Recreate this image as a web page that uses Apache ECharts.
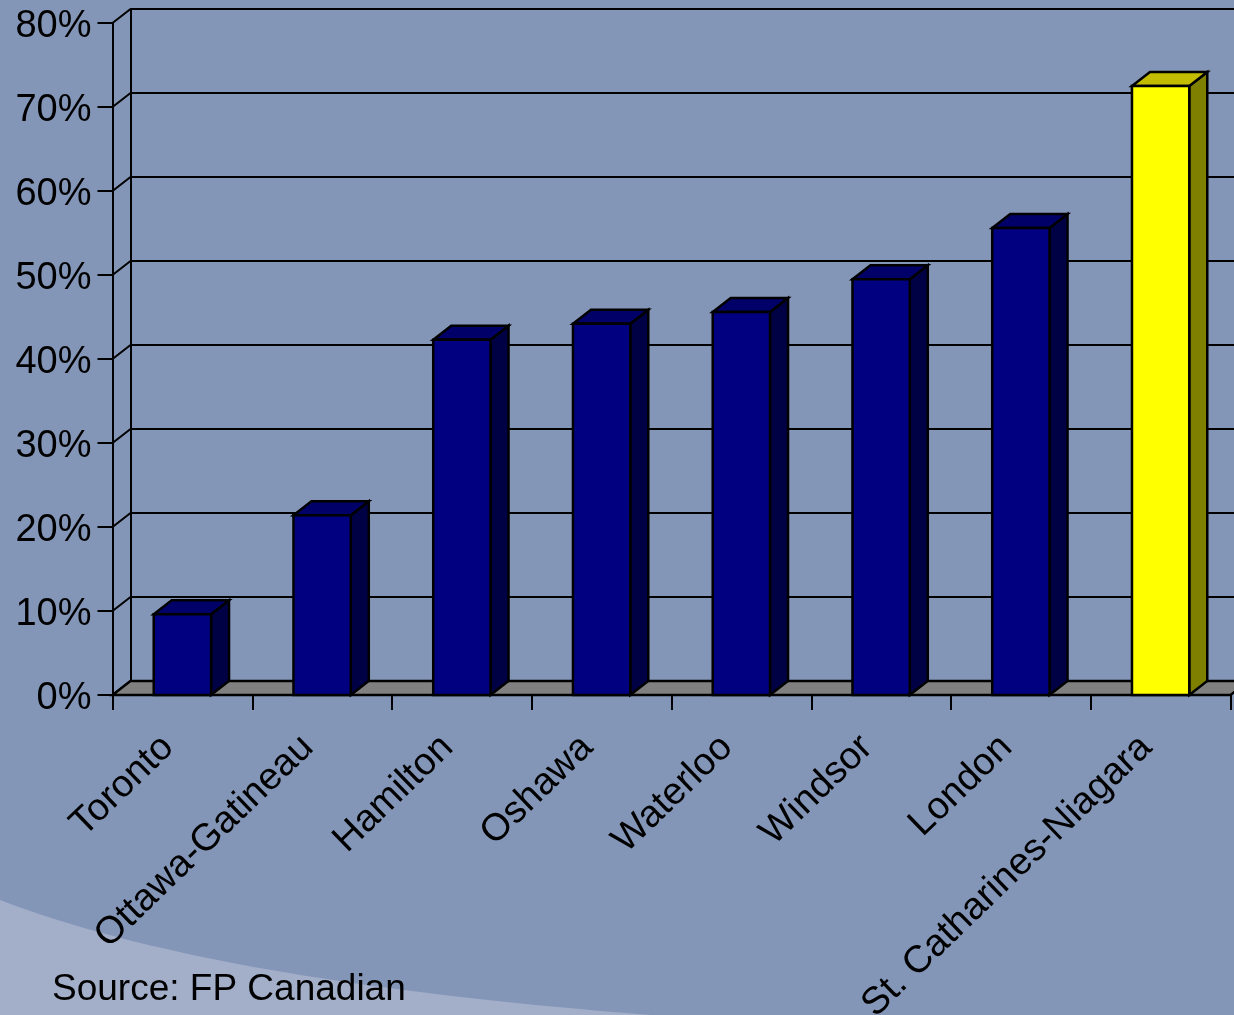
<!DOCTYPE html>
<html>
<head>
<meta charset="utf-8">
<style>html,body{margin:0;padding:0;background:#8496B8}#c{width:1234px;height:1015px}</style>
<script src="https://cdn.jsdelivr.net/npm/echarts@6/dist/echarts.min.js"></script>
</head>
<body>
<div id="c"></div>
<script>
const categories = ['Toronto','Ottawa-Gatineau','Hamilton','Oshawa','Waterloo','Windsor','London','St. Catharines-Niagara'];
const shares = [9.6, 21.4, 42.3, 44.2, 45.6, 49.5, 55.6, 72.5];
const highlighted = ['St. Catharines-Niagara'];
const yTicks = [0, 10, 20, 30, 40, 50, 60, 70, 80];
const sourceNote = 'Source: FP Canadian';

const DX = 18, DY = -14, BAR_FRACTION = 0.41;
const FONT = '"Liberation Sans", Arial, sans-serif';
const LINE = '#000';
const chart = echarts.init(document.getElementById('c'), null, {renderer: 'canvas'});

function poly(points, fill) {
  return {type: 'polygon', shape: {points}, style: {fill, stroke: LINE, lineWidth: 2.5, lineJoin: 'miter'}};
}

function renderBar(params, api) {
  const idx = api.value(0), val = api.value(1), hl = api.value(2);
  const band = api.size([1, 0])[0], w = band * BAR_FRACTION;
  const top = api.coord([idx, val]), base = api.coord([idx, 0]);
  const l = top[0] - w / 2, r = top[0] + w / 2, t = top[1], b = base[1];
  const c = hl ? ['#FFFF00', '#C4BC00', '#808000'] : ['#000080', '#000068', '#000044'];
  return {type: 'group', children: [
    poly([[r, b], [r + DX, b + DY], [r + DX, t + DY], [r, t]], c[2]),
    poly([[l, t], [l + DX, t + DY], [r + DX, t + DY], [r, t]], c[1]),
    poly([[l, t], [r, t], [r, b], [l, b]], c[0])
  ]};
}
function renderFloor(params, api) {
  const a = api.coord([0, 0]), band = api.size([1, 0])[0];
  const x0 = a[0] - band / 2, x1 = x0 + band * categories.length, y = a[1];
  return poly([[x0, y], [x0 + DX, y + DY], [x1 + DX, y + DY], [x1, y]], '#808080');
}
function renderWallTick(params, api) {
  const a = api.coord([0, api.value(0)]), band = api.size([1, 0])[0];
  const x = a[0] - band / 2;
  return {type: 'line', shape: {x1: x, y1: a[1], x2: x + DX, y2: a[1] + DY}, style: {stroke: LINE, lineWidth: 2}};
}

// Decorative backdrop swoosh in the lower-left corner
function swooshPoints() {
  const p0 = [0, 900], p1 = [130, 950], p2 = [330, 990], p3 = [650, 1015];
  const pts = [];
  for (let i = 0; i <= 40; i++) {
    const t = i / 40, u = 1 - t;
    pts.push([0, 1].map(k => u*u*u*p0[k] + 3*u*u*t*p1[k] + 3*u*t*t*p2[k] + t*t*t*p3[k]));
  }
  pts.push([0, 1015]);
  return pts;
}

const G = {left: 112.5, width: 1118, top: 23, height: 672};
const option = {
  animation: false,
  backgroundColor: '#8496B8',
  textStyle: {fontFamily: FONT},
  graphic: [
    {type: 'polygon', z: -10, silent: true,
     shape: {points: swooshPoints()},
     style: {fill: '#A3AEC9'}},
    {type: 'text', z: 10, left: 52, top: 971,
     style: {text: sourceNote, fill: '#000', font: '37px ' + FONT}}
  ],
  grid: [
    {left: G.left, width: G.width, top: G.top, height: G.height, outerBoundsMode: 'none'},
    {left: G.left + DX, width: G.width + 10, top: G.top + DY, height: G.height, outerBoundsMode: 'none'}
  ],
  xAxis: [
    {type: 'category', gridIndex: 0, data: categories,
     axisLine: {show: true, lineStyle: {color: LINE, width: 2}},
     axisTick: {show: true, length: 15, lineStyle: {color: LINE, width: 2}},
     splitLine: {show: false},
     axisLabel: {rotate: 44, interval: 0, margin: 33, padding: [0, 20, 0, 0], color: '#000', fontSize: 38, fontFamily: FONT}},
    {type: 'category', gridIndex: 1, data: categories, show: false}
  ],
  yAxis: [
    {type: 'value', gridIndex: 0, min: 0, max: 80, interval: 10,
     axisLine: {show: true, lineStyle: {color: LINE, width: 2}},
     axisTick: {show: true, length: 15, lineStyle: {color: LINE, width: 2}},
     splitLine: {show: false},
     axisLabel: {margin: 21, verticalAlign: 'top', lineHeight: 8, color: '#000', fontSize: 38, fontFamily: FONT, formatter: '{value}%'}},
    {type: 'value', gridIndex: 1, min: 0, max: 80, interval: 10,
     axisLine: {show: true, lineStyle: {color: LINE, width: 2}},
     axisTick: {show: false}, axisLabel: {show: false},
     splitLine: {show: true, lineStyle: {color: LINE, width: 2}}}
  ],
  series: [
    {type: 'custom', name: 'wall', coordinateSystem: 'cartesian2d', xAxisIndex: 0, yAxisIndex: 0,
     renderItem: renderWallTick, data: yTicks.map(v => [v]), encode: {y: 0}, z: 3, silent: true},
    {type: 'custom', name: 'floor', coordinateSystem: 'cartesian2d', xAxisIndex: 0, yAxisIndex: 0,
     renderItem: renderFloor, data: [[0]], z: 3, silent: true},
    {type: 'custom', name: 'share', coordinateSystem: 'cartesian2d', xAxisIndex: 0, yAxisIndex: 0,
     renderItem: renderBar, z: 5, silent: true,
     encode: {x: 0, y: 1},
     data: categories.map((c, i) => [i, shares[i], highlighted.includes(c) ? 1 : 0])}
  ]
};
chart.setOption(option);
</script>
</body>
</html>
